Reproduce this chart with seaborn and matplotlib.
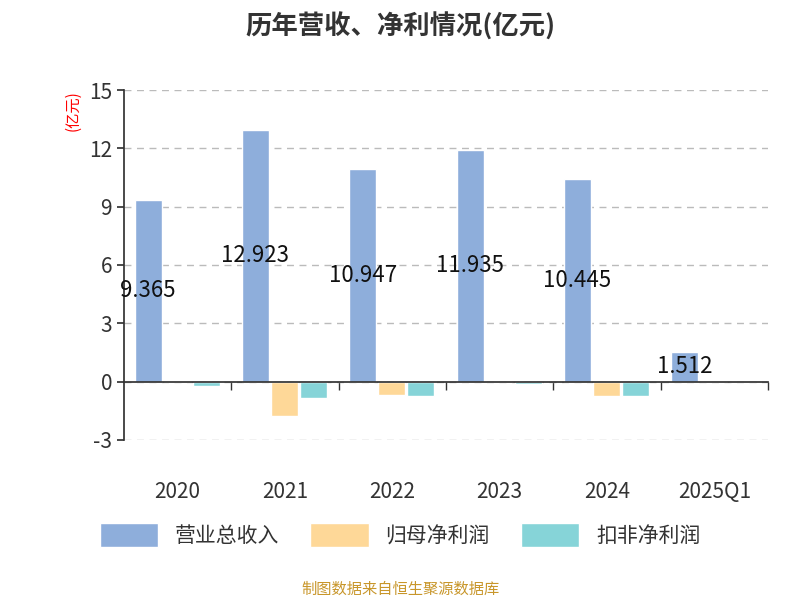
import matplotlib
matplotlib.use("Agg")
import matplotlib.pyplot as plt
import seaborn as sns
import pandas as pd
from matplotlib.patches import Patch

years = ["2020", "2021", "2022", "2023", "2024", "2025Q1"]
revenue = [9.365, 12.923, 10.947, 11.935, 10.445, 1.512]
net_profit = [0.05, -1.78, -0.68, -0.05, -0.75, 0.02]
deducted_profit = [-0.25, -0.87, -0.75, -0.15, -0.75, -0.03]
series = ["营业总收入", "归母净利润", "扣非净利润"]
colors = ["#8eaedb", "#fed898", "#86d4d8"]

sns.set_theme(style="white")
plt.rcParams['font.family'] = ['Noto Sans CJK SC', 'DejaVu Sans']
plt.rcParams['axes.unicode_minus'] = False

df = pd.DataFrame({"year": years * 3,
                   "value": revenue + net_profit + deducted_profit,
                   "series": [s for s in series for _ in years]})

fig = plt.figure(figsize=(8, 6), dpi=100)
ax = fig.add_axes([0.155, 0.267, 0.805, 0.583])
sns.barplot(data=df, x="year", y="value", hue="series", palette=colors,
            ax=ax, width=0.8, legend=False, saturation=1)
n = len(years)
for i, p in enumerate(ax.patches[:3 * n]):
    s, k = divmod(i, n)
    p.set_width(0.25)
    p.set_x(k - 0.4 + s * 0.27)

ax.set_ylim(-3, 15)
ax.set_yticks(range(-3, 16, 3))
ax.set_xlim(-0.5, n - 0.5)
ax.yaxis.grid(True, linestyle=(0, (5, 4)), color="#bbbbbb", linewidth=1)
ax.set_axisbelow(True)
for sp in ["top", "right"]:
    ax.spines[sp].set_visible(False)
ax.spines["bottom"].set_position(("data", 0))
ax.spines["left"].set_color("#333333")
ax.spines["bottom"].set_color("#333333")
ax.tick_params(axis="y", labelsize=15, colors="#333333", left=True, length=5)
ax.tick_params(axis="x", labelsize=15, colors="#333333", bottom=False, length=0, pad=72)
ax.set_xticks([k + 0.5 for k in range(n)], minor=True)
ax.tick_params(axis="x", which="minor", bottom=True, length=6, color="#333333")
ax.set_xlabel("")
ax.set_ylabel("")
ax.text(-0.08, 1.0, "(亿元)", transform=ax.transAxes, rotation=90, color="red",
        fontsize=11, va="top", ha="center")

for k, v in enumerate(revenue):
    ax.text(k - 0.4 + 0.125, v / 2, f"{v:.3f}", ha="center", va="center",
            fontsize=16, color="#111111")

fig.text(0.5, 0.955, "历年营收、净利情况(亿元)", ha="center", va="center",
         fontsize=19, fontweight="bold", color="#333333")
handles = [Patch(facecolor=c, label=s) for c, s in zip(colors, series)]
fig.legend(handles=handles, loc="center", bbox_to_anchor=(0.5, 0.108), ncol=3,
           frameon=False, fontsize=15, handlelength=2.8, handleheight=1.4,
           columnspacing=1.5, labelcolor="#333333")
fig.text(0.5, 0.018, "制图数据来自恒生聚源数据库", ha="center", va="center",
         fontsize=11, color="#c8962a")
fig.savefig("out.png", dpi=100)
